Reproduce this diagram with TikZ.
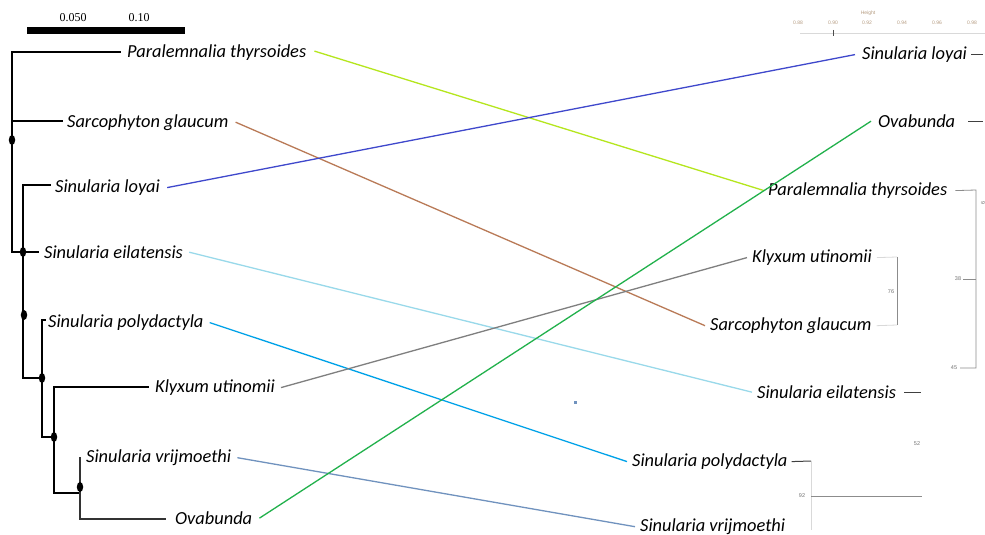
\documentclass[tikz,border=0pt]{standalone}
\usepackage{fontspec}
\setmainfont{Carlito}
\newfontfamily\scalefont{Liberation Serif}
\newfontfamily\smallsans{Liberation Sans}
\begin{document}
\begin{tikzpicture}[x=1pt,y=-1pt,
  lab/.style={font=\fontsize{18.4}{18.4}\selectfont\itshape, inner sep=0pt, anchor=base west},
  tree/.style={line width=2.2pt, black, line cap=rect},
  link/.style={line width=1.3pt},
  hgt/.style={black!45, line width=0.8pt},
  hgtlight/.style={black!15, line width=0.8pt},
  hdark/.style={black!75, line width=1pt},
  tinylab/.style={font=\smallsans\fontsize{5.5}{5.5}\selectfont, text=black!55, inner sep=0pt},
  axlab/.style={font=\smallsans\fontsize{5}{5}\selectfont, text=brown!70!black!60, inner sep=0pt}
]
\useasboundingbox (0,0) rectangle (985,535);
\fill[white] (0,0) rectangle (985,535);

% colours
\definecolor{cPar}{HTML}{B5E61D}
\definecolor{cSar}{HTML}{B97A57}
\definecolor{cLoy}{HTML}{3F48CC}
\definecolor{cEil}{HTML}{99D9EA}
\definecolor{cPol}{HTML}{00A2E8}
\definecolor{cKly}{HTML}{7F7F7F}
\definecolor{cVri}{HTML}{7092BE}
\definecolor{cOva}{HTML}{22B14C}

% scale bar
\fill[black] (27,27) rectangle (185,34);
\node[font=\scalefont\fontsize{12}{12}\selectfont] (s1) at (73,18) {0.050};
\node[font=\scalefont\fontsize{12}{12}\selectfont] (s2) at (139,18) {0.10};

% left labels
\node[lab] (Lpar) at (127,58) {Paralemnalia thyrsoides};
\node[lab] (Lsar) at (67,127) {Sarcophyton glaucum};
\node[lab] (Lloy) at (55,192.5) {Sinularia loyai};
\node[lab] (Leil) at (44,258.5) {Sinularia eilatensis};
\node[lab] (Lpol) at (48,327.5) {Sinularia polydactyla};
\node[lab] (Lkly) at (155,392.5) {Klyxum utinomii};
\node[lab] (Lvri) at (86,462.5) {Sinularia vrijmoethi};
\node[lab] (Lova) at (175,524.5) {Ovabunda};

% right labels
\node[lab] (Rloy) at (862,59.5) {Sinularia loyai};
\node[lab] (Rova) at (878,127.5) {Ovabunda};
\node[lab] (Rpar) at (768,195.5) {Paralemnalia thyrsoides};
\node[lab] (Rkly) at (752,262.5) {Klyxum utinomii};
\node[lab] (Rsar) at (710,330.5) {Sarcophyton glaucum};
\node[lab] (Reil) at (757,398.5) {Sinularia eilatensis};
\node[lab] (Rpol) at (632,466.5) {Sinularia polydactyla};
\node[lab] (Rvri) at (640,531.5) {Sinularia vrijmoethi};

% left tree
\coordinate (n0) at (12,140);
\coordinate (n1) at (23,252);
\coordinate (n2) at (24,315);
\coordinate (n3) at (42,378);
\coordinate (n4) at (54,437);
\coordinate (n5) at (80,487);
\draw[tree] (120,52) -- (12,52) -- (12,252) -- (23,252);
\draw[tree] (12,121) -- (62,121);
\draw[tree] (50,185) -- (23,185) -- (23,378) -- (42,378);
\draw[tree] (23,252) -- (38,252);
\draw[tree] (45,320) -- (42,320) -- (42,437) -- (54,437);
\draw[tree] (148,387) -- (54,387) -- (54,493) -- (80,493);
\draw[tree,black!80,line width=1.8pt] (80,458) -- (80,519) -- (165,519);
\foreach \n in {n0,n1,n2,n3,n4,n5} \fill[black] (\n) ellipse (3.2 and 5);

% connectors
\draw[link,cPar] ([xshift=8pt,yshift=2pt]Lpar.east) -- ([xshift=-4pt]Rpar.west);
\draw[link,cSar] ([xshift=7pt]Lsar.east) -- ([xshift=-5pt]Rsar.west);
\draw[link,cLoy] ([xshift=7pt]Lloy.east) -- ([xshift=-7pt]Rloy.west);
\draw[link,cEil] ([xshift=6pt]Leil.east) -- ([xshift=-5pt]Reil.west);
\draw[link,cPol] ([xshift=6pt]Lpol.east) -- ([xshift=-5pt]Rpol.west);
\draw[link,cKly] ([xshift=6pt]Lkly.east) -- ([xshift=-5pt]Rkly.west);
\draw[link,cVri] ([xshift=6pt]Lvri.east) -- ([xshift=-5pt]Rvri.west);
\draw[link,cOva] ([xshift=7pt]Lova.east) -- ([xshift=-7pt]Rova.west);

% stray mark
\fill[cVri] (574,401) rectangle (577,404);

% height axis
\draw[hgtlight] (800,33) -- (985,33);
\draw[black!70, line width=0.6pt] (833,30) -- (833,36);
\node[axlab] (ht) at (868,13) {Height};
\node[axlab] (a1) at (798,23) {0.88};
\node[axlab] (a2) at (833,23) {0.90};
\node[axlab] (a3) at (867,23) {0.92};
\node[axlab] (a4) at (902,23) {0.94};
\node[axlab] (a5) at (937,23) {0.96};
\node[axlab] (a6) at (972,23) {0.98};

% right dendrogram
\coordinate (d1) at (976,190);
\coordinate (d2) at (976,368);
\coordinate (d3) at (897,257);
\coordinate (d4) at (897,325);
\coordinate (d5) at (811,461);
\coordinate (d6) at (811,530);
\draw[hdark] ([xshift=4pt]Rloy.east) -- ++(12,0);
\draw[hdark] ([xshift=13pt]Rova.east) -- ++(15,0);
\draw[hgt] ([xshift=8pt]Rpar.east) -- (d1) -- (d2) -- ++(-16,0);
\node[tinylab] (t45) at (954,368) {45};
\node[tinylab] (t38) at (958,279) {38};
\draw[hgt] (963,279) -- (976,279);
\node[tinylab,rotate=90] (t6) at (983,203) {6};
\draw[hgtlight] ([xshift=5pt]Rkly.east) -- (d3);
\draw[hgtlight] ([xshift=5pt]Rsar.east) -- (d4);
\draw[hgt] (d3) -- (d4);
\node[tinylab] (t76) at (891,292) {76};
\draw[hdark] ([xshift=8pt]Reil.east) -- ++(17,0);
\draw[hdark] ([xshift=4pt]Rpol.east) -- (d5);
\draw[hgtlight] (d5) -- (d6);
\draw[hgt] (811,496) -- (922,496);
\node[tinylab] (t92) at (802,496) {92};
\node[tinylab] (t52) at (917,444) {52};
\end{tikzpicture}
\end{document}
